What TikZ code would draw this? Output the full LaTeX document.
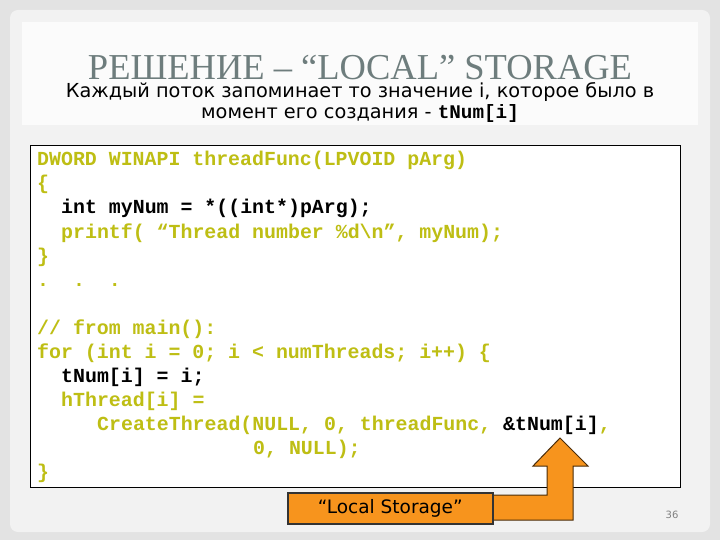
\documentclass[tikz,border=0pt]{standalone}
\usepackage{fontspec}
\setmainfont{DejaVu Sans}
\newfontfamily\titlefont{Liberation Serif}
\newfontfamily\codefont{Liberation Mono}
\usetikzlibrary{positioning}
\definecolor{codey}{RGB}{190,190,20}
\definecolor{orng}{RGB}{247,148,29}
\definecolor{ttl}{RGB}{110,125,125}
\tikzset{x=1pt,y=-1pt,
 code/.style={anchor=base west,inner sep=0pt,font=\codefont\bfseries\fontsize{19.9}{20}\selectfont,text=codey},
 codeb/.style={code,text=black}}
\begin{document}
\begin{tikzpicture}
\useasboundingbox (0,0) rectangle (720,540);
\fill[gray!22] (0,0) rectangle (720,540);
\fill[gray!10,rounded corners=8pt] (10,10) rectangle (710,532);
\fill[white!97!gray] (22,22) rectangle (698,125);
\node[anchor=base,inner sep=0pt,font=\titlefont\fontsize{36.5}{40}\selectfont,text=ttl] (title) at (360,80) {РЕШЕНИЕ – “LOCAL” STORAGE};
\node[anchor=base,inner sep=0pt,font=\fontsize{19.3}{20}\selectfont] (sub1) at (360,98) {Каждый поток запоминает то значение i, которое было в};
\node[anchor=base,inner sep=0pt,font=\fontsize{19.3}{20}\selectfont] (sub2) at (360,119) {момент его создания - {\codefont\bfseries tNum[i]}};
\node[draw=black,fill=white,line width=0.8pt,minimum width=650pt,minimum height=342pt,anchor=north west,inner sep=0pt] (box) at (30,145) {};
\node[code] (l1) at (37,166) {DWORD WINAPI threadFunc(LPVOID pArg)};
\node[code] (l2) at (37,190) {\{};
\node[codeb] (l3) at (61,214) {int myNum = *((int*)pArg);};
\node[code] (l4) at (61,238) {printf( “Thread number \%d\textbackslash n”, myNum);};
\node[code] (l5) at (37,262) {\}};
\node[code] (l6) at (37,286) {.\ \ .\ \ .};
\node[code] (l7) at (37,334) {// from main():};
\node[code] (l8) at (37,358) {for (int i = 0; i < numThreads; i++) \{};
\node[codeb] (l9) at (61,382) {tNum[i] = i;};
\node[code] (l10) at (61,406) {hThread[i] =};
\node[code] (l11) at (97,430) {CreateThread(NULL, 0, threadFunc, {\color{black}\&tNum[i]},};
\node[code] (l12) at (253,454) {0, NULL);};
\node[code] (l13) at (37,478) {\}};
\draw[fill=orng,draw=black!70!orng,line width=1pt] (492,495)--(547,495)--(547,466)--(533,466)--(560,438)--(588,466)--(573,466)--(573,520)--(492,520)--cycle;
\node[draw=black!80,line width=1.5pt,fill=orng,minimum width=205pt,minimum height=31pt,anchor=north west,inner sep=0pt,font=\fontsize{18.5}{20}\selectfont] (ls) at (287,492) {“Local Storage”};
\node[font=\fontsize{10}{12}\selectfont,text=gray] (pg) at (672,515) {36};
\end{tikzpicture}
\end{document}
